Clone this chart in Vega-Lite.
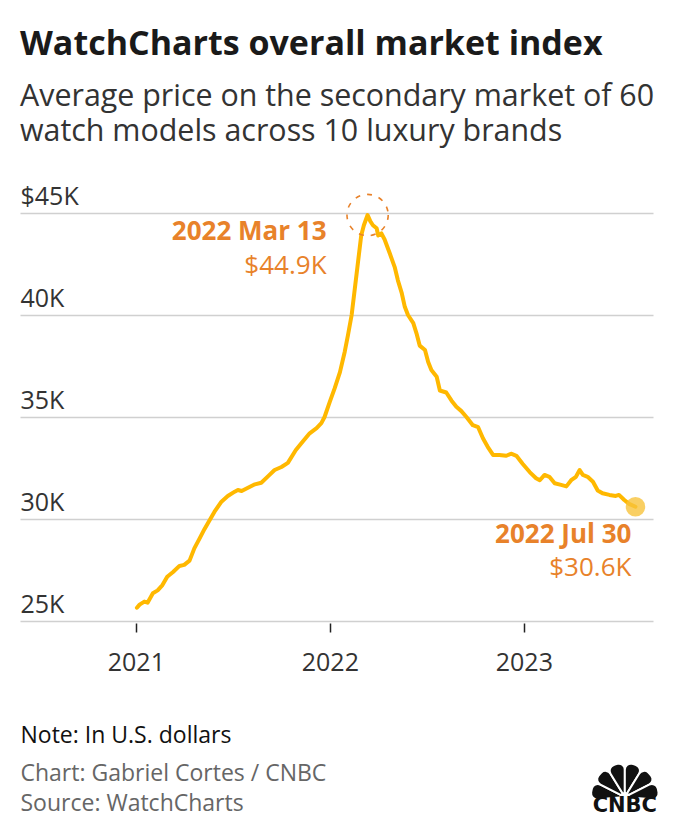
{
  "$schema": "https://vega.github.io/schema/vega-lite/v6.json",
  "background": "white",
  "padding": {"left": 20, "top": 27, "right": 10, "bottom": 5},
  "config": {"font": "Open Sans", "view": {"stroke": null}},
  "title": {
    "text": "WatchCharts overall market index",
    "subtitle": ["Average price on the secondary market of 60", "watch models across 10 luxury brands"],
    "anchor": "start",
    "font": "Open Sans",
    "fontSize": 34,
    "fontWeight": "bold",
    "color": "#1a1a1a",
    "subtitleFont": "Open Sans",
    "subtitleFontSize": 30.4,
    "subtitleColor": "#333333",
    "subtitleFontWeight": "normal",
    "subtitleLineHeight": 35,
    "subtitlePadding": 20,
    "offset": 37
  },
  "datasets": {
    "index": [
      {"date": "2021-01-03", "value": 25650},
      {"date": "2021-01-08", "value": 25800},
      {"date": "2021-01-17", "value": 25950},
      {"date": "2021-01-23", "value": 25900},
      {"date": "2021-02-02", "value": 26360},
      {"date": "2021-02-11", "value": 26500},
      {"date": "2021-02-20", "value": 26760},
      {"date": "2021-03-01", "value": 27170},
      {"date": "2021-03-12", "value": 27400},
      {"date": "2021-03-24", "value": 27700},
      {"date": "2021-04-02", "value": 27750},
      {"date": "2021-04-12", "value": 27960},
      {"date": "2021-04-21", "value": 28560},
      {"date": "2021-05-01", "value": 29050},
      {"date": "2021-05-10", "value": 29500},
      {"date": "2021-05-20", "value": 29950},
      {"date": "2021-05-29", "value": 30360},
      {"date": "2021-06-11", "value": 30850},
      {"date": "2021-06-23", "value": 31130},
      {"date": "2021-07-06", "value": 31340},
      {"date": "2021-07-12", "value": 31420},
      {"date": "2021-07-19", "value": 31370},
      {"date": "2021-07-31", "value": 31530},
      {"date": "2021-08-13", "value": 31700},
      {"date": "2021-08-25", "value": 31780},
      {"date": "2021-09-07", "value": 32100},
      {"date": "2021-09-19", "value": 32400},
      {"date": "2021-10-02", "value": 32550},
      {"date": "2021-10-14", "value": 32750},
      {"date": "2021-10-29", "value": 33380},
      {"date": "2021-11-08", "value": 33700},
      {"date": "2021-11-24", "value": 34200},
      {"date": "2021-12-07", "value": 34450},
      {"date": "2021-12-16", "value": 34700},
      {"date": "2021-12-22", "value": 35000},
      {"date": "2022-01-01", "value": 35750},
      {"date": "2022-01-10", "value": 36400},
      {"date": "2022-01-20", "value": 37200},
      {"date": "2022-01-29", "value": 38200},
      {"date": "2022-02-04", "value": 39000},
      {"date": "2022-02-11", "value": 40000},
      {"date": "2022-02-17", "value": 41300},
      {"date": "2022-02-23", "value": 42600},
      {"date": "2022-03-01", "value": 43900},
      {"date": "2022-03-06", "value": 44400},
      {"date": "2022-03-13", "value": 44900},
      {"date": "2022-03-18", "value": 44600},
      {"date": "2022-03-23", "value": 44400},
      {"date": "2022-03-30", "value": 44250},
      {"date": "2022-04-02", "value": 43900},
      {"date": "2022-04-08", "value": 44000},
      {"date": "2022-04-14", "value": 43700},
      {"date": "2022-04-24", "value": 43000},
      {"date": "2022-05-03", "value": 42350},
      {"date": "2022-05-09", "value": 41700},
      {"date": "2022-05-16", "value": 41100},
      {"date": "2022-05-22", "value": 40400},
      {"date": "2022-05-28", "value": 40000},
      {"date": "2022-06-07", "value": 39600},
      {"date": "2022-06-13", "value": 39100},
      {"date": "2022-06-19", "value": 38500},
      {"date": "2022-06-29", "value": 38280},
      {"date": "2022-07-05", "value": 37700},
      {"date": "2022-07-11", "value": 37300},
      {"date": "2022-07-21", "value": 36970},
      {"date": "2022-07-27", "value": 36300},
      {"date": "2022-08-08", "value": 36200},
      {"date": "2022-08-18", "value": 35800},
      {"date": "2022-08-27", "value": 35500},
      {"date": "2022-09-05", "value": 35300},
      {"date": "2022-09-15", "value": 35000},
      {"date": "2022-09-27", "value": 34600},
      {"date": "2022-10-07", "value": 34500},
      {"date": "2022-10-16", "value": 33960},
      {"date": "2022-10-25", "value": 33540},
      {"date": "2022-11-04", "value": 33140},
      {"date": "2022-11-16", "value": 33140},
      {"date": "2022-11-29", "value": 33100},
      {"date": "2022-12-08", "value": 33200},
      {"date": "2022-12-18", "value": 33100},
      {"date": "2022-12-30", "value": 32700},
      {"date": "2023-01-12", "value": 32300},
      {"date": "2023-01-24", "value": 32000},
      {"date": "2023-01-31", "value": 31900},
      {"date": "2023-02-09", "value": 32160},
      {"date": "2023-02-18", "value": 32070},
      {"date": "2023-02-28", "value": 31750},
      {"date": "2023-03-12", "value": 31670},
      {"date": "2023-03-22", "value": 31600},
      {"date": "2023-03-31", "value": 31900},
      {"date": "2023-04-09", "value": 32070},
      {"date": "2023-04-16", "value": 32400},
      {"date": "2023-04-22", "value": 32160},
      {"date": "2023-05-01", "value": 32070},
      {"date": "2023-05-11", "value": 31830},
      {"date": "2023-05-20", "value": 31400},
      {"date": "2023-05-29", "value": 31260},
      {"date": "2023-06-11", "value": 31180},
      {"date": "2023-06-23", "value": 31130},
      {"date": "2023-06-29", "value": 31180},
      {"date": "2023-07-09", "value": 30930},
      {"date": "2023-07-18", "value": 30740},
      {"date": "2023-07-30", "value": 30600}
    ],
    "peak": [{"date": "2022-03-13", "value": 44900, "label": "2022 Mar 13", "price": "$44.9K"}],
    "last": [{"date": "2023-07-30", "value": 30600, "label": "2022 Jul 30", "price": "$30.6K"}],
    "feathers": [
      {"feather": "a", "share": 1},
      {"feather": "b", "share": 1},
      {"feather": "c", "share": 1},
      {"feather": "d", "share": 1},
      {"feather": "e", "share": 1},
      {"feather": "f", "share": 1}
    ],
    "brand": [{"name": "CNBC"}]
  },
  "width": 633,
  "height": 408,
  "layer": [
    {
      "data": {"name": "index"},
      "mark": {"type": "line", "color": "#FFB800", "strokeWidth": 4, "strokeJoin": "round", "strokeCap": "round"},
      "encoding": {
        "x": {
          "field": "date",
          "type": "temporal",
          "scale": {"domain": [{"year": 2020, "month": 5, "date": 28}, {"year": 2023, "month": 9, "date": 1}]},
          "axis": {
            "title": "Note: In U.S. dollars",
            "titleX": 0,
            "titleY": 119,
            "titleAlign": "left",
            "titleAnchor": "start",
            "titleBaseline": "alphabetic",
            "titleFont": "Open Sans",
            "titleFontSize": 23,
            "titleFontWeight": "normal",
            "titleColor": "#111111",
            "domain": false,
            "grid": false,
            "ticks": true,
            "tickSize": 9,
            "tickColor": "#222222",
            "tickWidth": 1.5,
            "offset": 2,
            "format": "%Y",
            "tickCount": {"interval": "year", "step": 1},
            "labelFont": "Open Sans",
            "labelFontSize": 25,
            "labelColor": "#333333",
            "labelBaseline": "alphabetic",
            "labelPadding": 38,
            "labelFlush": false
          }
        },
        "y": {
          "field": "value",
          "type": "quantitative",
          "scale": {"domain": [25000, 45000], "nice": false, "zero": false},
          "axis": {
            "title": ["Chart: Gabriel Cortes / CNBC", "Source: WatchCharts"],
            "titleAngle": 0,
            "titleX": 0,
            "titleY": 567,
            "titleAlign": "left",
            "titleAnchor": "start",
            "titleBaseline": "alphabetic",
            "titleFont": "Open Sans",
            "titleFontSize": 23,
            "titleFontWeight": "normal",
            "titleColor": "#666666",
            "titleLineHeight": 30,
            "domain": false,
            "ticks": false,
            "tickSize": 0,
            "grid": true,
            "gridColor": "#d0d0d0",
            "gridWidth": 1.5,
            "values": [25000, 30000, 35000, 40000, 45000],
            "labelAlign": "left",
            "labelBaseline": "alphabetic",
            "labelPadding": 0,
            "labelOffset": -9,
            "labelFont": "Open Sans",
            "labelFontSize": 25,
            "labelColor": "#333333",
            "labelFlush": false,
            "labelOverlap": false,
            "labelExpr": "datum.value == 45000 ? '$45K' : format(datum.value / 1000, 'd') + 'K'"
          }
        }
      }
    },
    {
      "data": {"name": "peak"},
      "encoding": {"x": {"field": "date", "type": "temporal"}, "y": {"field": "value", "type": "quantitative"}},
      "layer": [
        {"mark": {"type": "point", "shape": "circle", "size": 1700, "filled": false, "stroke": "#E8822A", "strokeWidth": 1.6, "strokeDash": [5, 7], "opacity": 1}},
        {
          "mark": {"type": "text", "align": "right", "baseline": "alphabetic", "dx": -41, "dy": 25, "font": "Open Sans", "fontSize": 26, "fontWeight": "bold", "color": "#E8822A"},
          "encoding": {"text": {"field": "label"}}
        },
        {
          "mark": {"type": "text", "align": "right", "baseline": "alphabetic", "dx": -41, "dy": 59, "font": "Open Sans", "fontSize": 26, "fontWeight": "normal", "color": "#E8822A"},
          "encoding": {"text": {"field": "price"}}
        }
      ]
    },
    {
      "data": {"name": "last"},
      "encoding": {"x": {"field": "date", "type": "temporal"}, "y": {"field": "value", "type": "quantitative"}},
      "layer": [
        {"mark": {"type": "point", "shape": "circle", "size": 380, "filled": true, "color": "#F7C33C", "opacity": 0.8}},
        {
          "mark": {"type": "text", "align": "right", "baseline": "alphabetic", "dx": -4, "dy": 36, "font": "Open Sans", "fontSize": 26, "fontWeight": "bold", "color": "#E8822A"},
          "encoding": {"text": {"field": "label"}}
        },
        {
          "mark": {"type": "text", "align": "right", "baseline": "alphabetic", "dx": -4, "dy": 69, "font": "Open Sans", "fontSize": 26, "fontWeight": "normal", "color": "#E8822A"},
          "encoding": {"text": {"field": "price"}}
        }
      ]
    },
    {
      "data": {"name": "feathers"},
      "mark": {"type": "arc", "outerRadius": 34, "innerRadius": 4, "cornerRadius": 6, "stroke": "white", "strokeWidth": 2, "color": "#111111", "clip": false},
      "encoding": {
        "x": {"datum": {"year": 2023, "month": 7, "date": 10}, "type": "temporal"},
        "y": {"datum": 16370, "type": "quantitative"},
        "theta": {"field": "share", "type": "quantitative", "stack": true, "scale": {"range": [-1.65, 1.65]}},
        "order": {"field": "feather"}
      }
    },
    {
      "data": {"name": "brand"},
      "mark": {"type": "text", "align": "center", "baseline": "alphabetic", "dy": 15, "font": "DejaVu Sans", "fontSize": 21, "fontWeight": "bold", "color": "#111111", "clip": false},
      "encoding": {
        "x": {"datum": {"year": 2023, "month": 7, "date": 10}, "type": "temporal"},
        "y": {"datum": 16370, "type": "quantitative"},
        "text": {"field": "name"}
      }
    }
  ]
}
